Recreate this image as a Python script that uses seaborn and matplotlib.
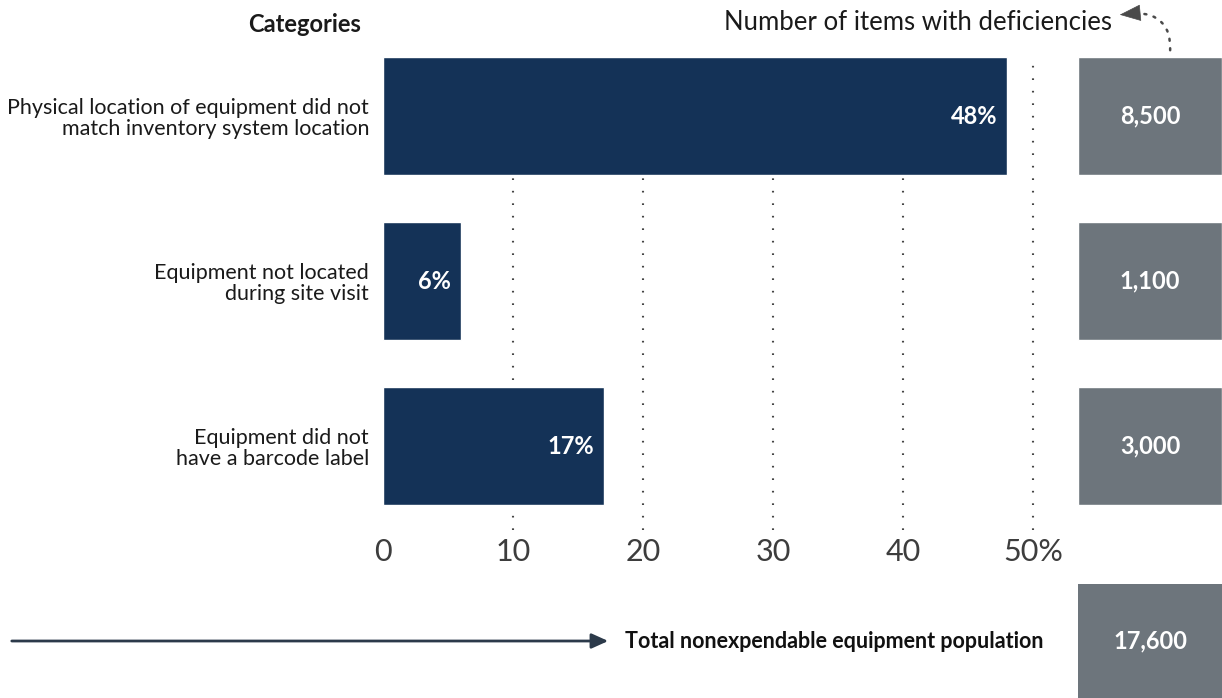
import matplotlib
matplotlib.use("Agg")
import matplotlib.pyplot as plt
import seaborn as sns
import pandas as pd

# Data
categories = [
    "Physical location of equipment did not\nmatch inventory system location",
    "Equipment not located\nduring site visit",
    "Equipment did not\nhave a barcode label",
]
percent_values = [48, 6, 17]
item_counts = [8500, 1100, 3000]
total_population = 17600
x_ticks = [0, 10, 20, 30, 40, 50]
x_tick_labels = ["0", "10", "20", "30", "40", "50%"]

BAR_COLOR = "#143257"
BOX_COLOR = "#6d757c"
TEXT_DARK = "#1a1a1a"

sns.set_theme(style="white")
plt.rcParams["font.family"] = ["Lato", "DejaVu Sans"]

df = pd.DataFrame({"category": categories, "pct": percent_values, "count": item_counts})

W, H = 1222, 698
fig = plt.figure(figsize=(W / 100, H / 100), dpi=100)


def fx(px):
    return px / W


def fy(py):
    return 1 - py / H


# Main horizontal bar chart
ax = fig.add_axes([fx(383), fy(530), fx(1039.5) - fx(383), fy(57) - fy(530)])
sns.barplot(data=df, x="pct", y="category", color=BAR_COLOR, saturation=1,
            width=0.715, ax=ax, zorder=3)
ax.set_xlim(0, 50.5)
ax.set_ylim(2.509, -0.3576)
for v in x_ticks[1:]:
    ax.axvline(v, color="#444444", linewidth=1.5, linestyle=(0, (0.8, 5.2)), zorder=1)
ax.set_xticks(x_ticks)
ax.set_xticklabels(x_tick_labels, fontsize=22, color="#3d3d3d", fontweight="normal")
ax.tick_params(axis="x", length=0, pad=6)
ax.tick_params(axis="y", length=0, pad=10)
for lbl in ax.get_yticklabels():
    lbl.set_fontsize(15.5)
    lbl.set_color(TEXT_DARK)
    lbl.set_linespacing(1.05)
ax.set_xlabel("")
ax.set_ylabel("")
for s in ax.spines.values():
    s.set_visible(False)
ax.patch.set_alpha(0)

for i, p in enumerate(percent_values):
    ax.annotate(f"{p}%", xy=(p, i), xytext=(-7, 0), textcoords="offset points",
                ha="right", va="center", color="white", fontsize=17,
                fontweight="bold", zorder=4)

# Count boxes at the right, one per category
ax2 = fig.add_axes([fx(1078), fy(530), 1 - fx(1078), fy(57) - fy(530)])
box_df = pd.DataFrame({"category": categories, "fill": [1] * len(categories)})
sns.barplot(data=box_df, x="fill", y="category", color=BOX_COLOR, saturation=1,
            width=0.715, ax=ax2)
ax2.set_xlim(0, 1)
ax2.set_ylim(2.509, -0.3576)
ax2.axis("off")
for i, c in enumerate(item_counts):
    ax2.text(0.5, i, f"{c:,}", ha="center", va="center", color="white",
             fontsize=17, fontweight="bold")

# Total population box
ax3 = fig.add_axes([fx(1078), 0, 1 - fx(1078), fy(584)])
ax3.set_facecolor(BOX_COLOR)
ax3.set_xticks([])
ax3.set_yticks([])
for s in ax3.spines.values():
    s.set_visible(False)
ax3.text(0.5, 0.5, f"{total_population:,}", ha="center", va="center",
         color="white", fontsize=17, fontweight="bold", transform=ax3.transAxes)

# Headers
fig.text(fx(305), fy(24), "Categories", ha="center", va="center",
         fontsize=17, fontweight="bold", color=TEXT_DARK)
fig.text(fx(1112), fy(22), "Number of items with deficiencies", ha="right",
         va="center", fontsize=18.5, color=TEXT_DARK)

# Dotted curved pointer from the first box to the header
fig.add_artist(matplotlib.patches.FancyArrowPatch(
    (fx(1170), fy(53)), (fx(1132), fy(13)),
    transform=fig.transFigure,
    connectionstyle="arc3,rad=0.55",
    arrowstyle="-",
    linestyle=(0, (0.8, 3)), linewidth=1.8, color="#4a4a4a",
    mutation_scale=1,
))
fig.add_artist(matplotlib.patches.FancyArrowPatch(
    (fx(1133), fy(13.5)), (fx(1117), fy(15)),
    transform=fig.transFigure,
    arrowstyle="-|>,head_length=14,head_width=5.5",
    linewidth=0.5, color="#4a4a4a", mutation_scale=1,
))

# Bottom arrow to the total
fig.add_artist(matplotlib.patches.FancyArrowPatch(
    (fx(9), fy(641)), (fx(611), fy(641)),
    transform=fig.transFigure,
    arrowstyle="-|>,head_length=10,head_width=4.5",
    linewidth=2, color="#2c3a4a", mutation_scale=1,
))
fig.text(fx(625), fy(641), "Total nonexpendable equipment population",
         ha="left", va="center", fontsize=15.5, fontweight="bold", color="#111111")

fig.savefig("out.png", dpi=100)
